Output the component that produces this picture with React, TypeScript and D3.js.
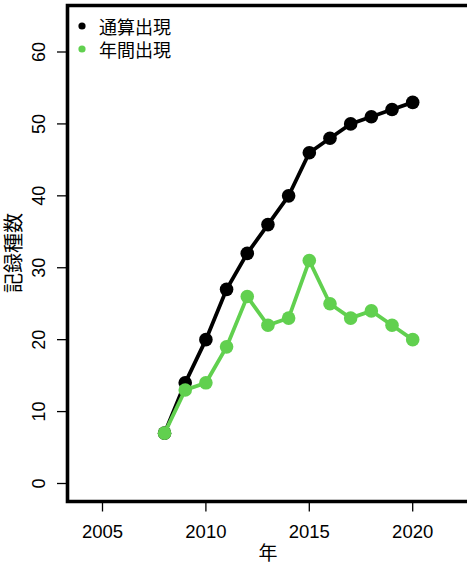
import React from "react";
import * as d3 from "d3";

const years = [2008, 2009, 2010, 2011, 2012, 2013, 2014, 2015, 2016, 2017, 2018, 2019, 2020];
const cumulative = [7, 14, 20, 27, 32, 36, 40, 46, 48, 50, 51, 52, 53];
const annual = [7, 13, 14, 19, 26, 22, 23, 31, 25, 23, 24, 22, 20];
const xTicks = [2005, 2010, 2015, 2020];
const yTicks = [0, 10, 20, 30, 40, 50, 60];
const seriesNames = ["通算出現", "年間出現"];
const seriesColors = ["#000000", "#61D04F"];
const xTitle = "年";
const yTitle = "記録種数";

const W = 467;
const H = 569;
const FONT = "'Liberation Sans', Arial, 'Noto Sans CJK JP', sans-serif";
const CJK = "'Noto Sans CJK JP', 'Liberation Sans', sans-serif";

export default function App() {
  const x = d3.scaleLinear().domain([2005, 2020]).range([102.5, 412.7]);
  const y = d3.scaleLinear().domain([0, 60]).range([483.5, 52]);
  const line = d3
    .line<number>()
    .x((_, i) => x(years[i]))
    .y((d) => y(d));
  const series = [cumulative, annual];
  const left = 67.5, top = 5.5, bottom = 501.5;

  return (
    <svg
      width={W}
      height={H}
      style={{ position: "absolute", left: 0, top: 0, background: "#fff" }}
    >
      <rect x={0} y={0} width={W} height={H} fill="#fff" />
      {series.map((s, k) => (
        <g key={k}>
          <path d={line(s) || ""} fill="none" stroke={seriesColors[k]} strokeWidth={3.8} />
          {s.map((v, i) => (
            <circle key={i} cx={x(years[i])} cy={y(v)} r={6.8} fill={seriesColors[k]} />
          ))}
        </g>
      ))}
      <path
        d={`M${W + 20},${top} H${left} V${bottom} H${W + 20}`}
        fill="none"
        stroke="#000"
        strokeWidth={3.6}
      />
      {yTicks.map((t) => (
        <g key={t}>
          <line x1={57} x2={left} y1={y(t)} y2={y(t)} stroke="#000" strokeWidth={1.3} />
          <text
            transform={`translate(45,${y(t)}) rotate(-90)`}
            textAnchor="middle"
            fontFamily={FONT}
            fontSize={18}
            fill="#000"
          >
            {t}
          </text>
        </g>
      ))}
      {xTicks.map((t) => (
        <g key={t}>
          <line x1={x(t)} x2={x(t)} y1={bottom} y2={511.5} stroke="#000" strokeWidth={1.3} />
          <text x={x(t)} y={537.5} textAnchor="middle" fontFamily={FONT} fontSize={18.5} fill="#000">
            {t}
          </text>
        </g>
      ))}
      <text x={268} y={560} textAnchor="middle" fontFamily={CJK} fontSize={19} fill="#000">
        {xTitle}
      </text>
      <text
        transform={`translate(21,253) rotate(-90)`}
        textAnchor="middle"
        fontFamily={CJK}
        fontSize={20}
        fill="#000"
      >
        {yTitle}
      </text>
      {seriesNames.map((n, k) => (
        <g key={n}>
          <circle cx={82} cy={26 + k * 23} r={3.6} fill={seriesColors[k]} />
          <text
            x={99}
            y={26 + k * 23}
            dominantBaseline="central"
            fontFamily={CJK}
            fontSize={18}
            fill="#000"
          >
            {n}
          </text>
        </g>
      ))}
    </svg>
  );
}
